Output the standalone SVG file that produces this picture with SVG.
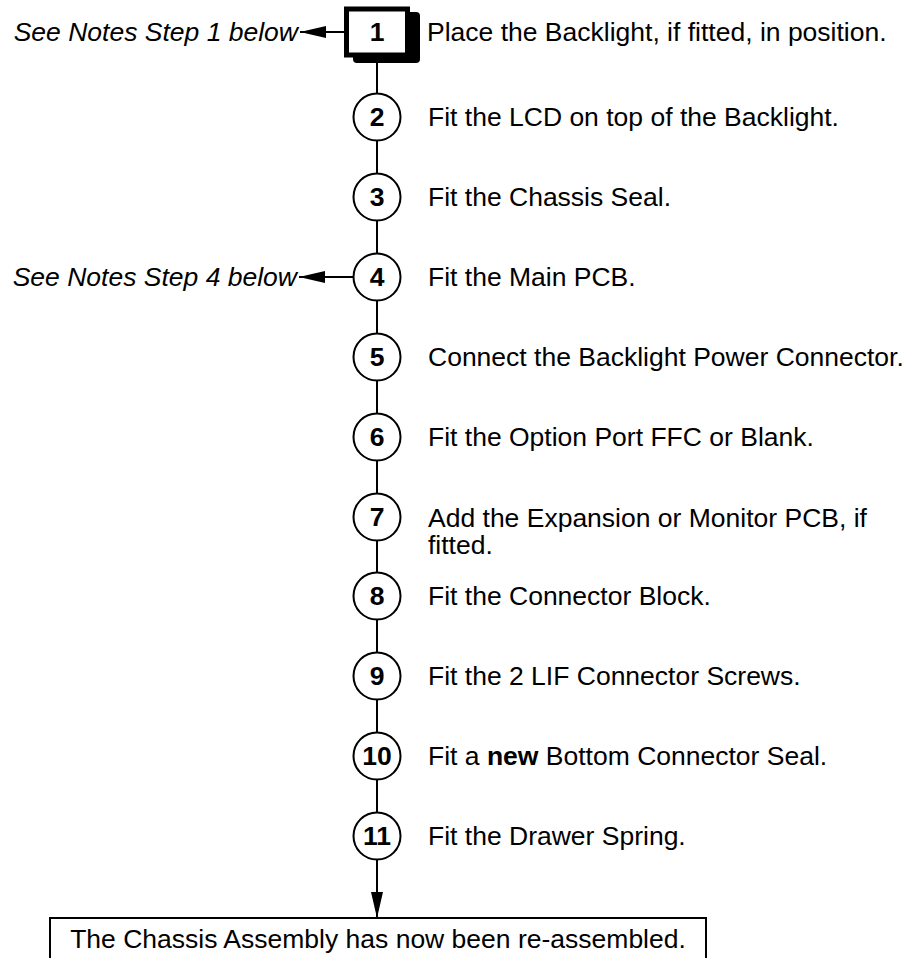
<svg xmlns="http://www.w3.org/2000/svg" width="915" height="958" viewBox="0 0 915 958">
<style>
.t{font-family:"Liberation Sans",Arial,sans-serif;font-size:26.5px;fill:#000}
.n{font-family:"Liberation Sans",Arial,sans-serif;font-size:26.5px;font-weight:bold;fill:#000;text-anchor:middle}
.i{font-family:"Liberation Sans",Arial,sans-serif;font-size:26.5px;font-style:italic;fill:#000;text-anchor:end}
.c{fill:#fff;stroke:#000;stroke-width:2}
.l{stroke:#000;stroke-width:2;fill:none}
</style>
<defs>
<marker id="ah" viewBox="0 0 26 12" refX="26" refY="6" markerWidth="26" markerHeight="12" markerUnits="userSpaceOnUse" orient="auto">
<path d="M0,0 L26,6 L0,12 Z" fill="#000"/>
</marker>
</defs>
<rect width="915" height="958" fill="#fff"/>
<g id="connectors">
<line class="l" x1="377" y1="63" x2="377" y2="93"/>
<line class="l" x1="377" y1="141" x2="377" y2="173"/>
<line class="l" x1="377" y1="221" x2="377" y2="253"/>
<line class="l" x1="377" y1="301" x2="377" y2="333"/>
<line class="l" x1="377" y1="381" x2="377" y2="413"/>
<line class="l" x1="377" y1="460" x2="377" y2="493"/>
<line class="l" x1="377" y1="540" x2="377" y2="573"/>
<line class="l" x1="377" y1="620" x2="377" y2="653"/>
<line class="l" x1="377" y1="700" x2="377" y2="732"/>
<line class="l" x1="377" y1="780" x2="377" y2="812"/>
<line class="l" x1="377" y1="860" x2="377" y2="918" marker-end="url(#ah)"/>
<line class="l" x1="344" y1="32" x2="300" y2="32" marker-end="url(#ah)"/>
<line class="l" x1="353" y1="277" x2="299" y2="277" marker-end="url(#ah)"/>
</g>
<g id="note1"><text class="i" x="298" y="41">See Notes Step 1 below</text></g>
<g id="note4"><text class="i" x="297" y="286">See Notes Step 4 below</text></g>
<g id="step1">
<rect x="353" y="12" width="67" height="51" rx="4" fill="#000"/>
<rect x="346.5" y="9" width="61" height="46" fill="#fff" stroke="#000" stroke-width="5"/>
<text class="n" x="377" y="41">1</text>
<text class="t" x="427" y="41">Place the Backlight, if fitted, in position.</text>
</g>
<g id="step2"><circle class="c" cx="377" cy="117" r="23.5"/><text class="n" x="377" y="126">2</text><text class="t" x="428" y="126">Fit the LCD on top of the Backlight.</text></g>
<g id="step3"><circle class="c" cx="377" cy="197" r="23.5"/><text class="n" x="377" y="206">3</text><text class="t" x="428" y="206">Fit the Chassis Seal.</text></g>
<g id="step4"><circle class="c" cx="377" cy="277" r="23.5"/><text class="n" x="377" y="286">4</text><text class="t" x="428" y="286">Fit the Main PCB.</text></g>
<g id="step5"><circle class="c" cx="377" cy="357" r="23.5"/><text class="n" x="377" y="366">5</text><text class="t" x="428" y="366">Connect the Backlight Power Connector.</text></g>
<g id="step6"><circle class="c" cx="377" cy="437" r="23.5"/><text class="n" x="377" y="446">6</text><text class="t" x="428" y="446">Fit the Option Port FFC or Blank.</text></g>
<g id="step7"><circle class="c" cx="377" cy="517" r="23.5"/><text class="n" x="377" y="526">7</text><text class="t" x="428" y="527">Add the Expansion or Monitor PCB, if</text><text class="t" x="428" y="554">fitted.</text></g>
<g id="step8"><circle class="c" cx="377" cy="596" r="23.5"/><text class="n" x="377" y="605">8</text><text class="t" x="428" y="605">Fit the Connector Block.</text></g>
<g id="step9"><circle class="c" cx="377" cy="676" r="23.5"/><text class="n" x="377" y="685">9</text><text class="t" x="428" y="685">Fit the 2 LIF Connector Screws.</text></g>
<g id="step10"><circle class="c" cx="377" cy="756" r="23.5"/><text class="n" x="377" y="765">10</text><text class="t" x="428" y="765">Fit a <tspan font-weight="bold">new</tspan> Bottom Connector Seal.</text></g>
<g id="step11"><circle class="c" cx="377" cy="836" r="23.5"/><text class="n" x="377" y="845">11</text><text class="t" x="428" y="845">Fit the Drawer Spring.</text></g>
<g id="final">
<rect x="50" y="918" width="656" height="60" fill="#fff" stroke="#000" stroke-width="2"/>
<text class="t" x="378" y="948" text-anchor="middle">The Chassis Assembly has now been re-assembled.</text>
</g>
</svg>
